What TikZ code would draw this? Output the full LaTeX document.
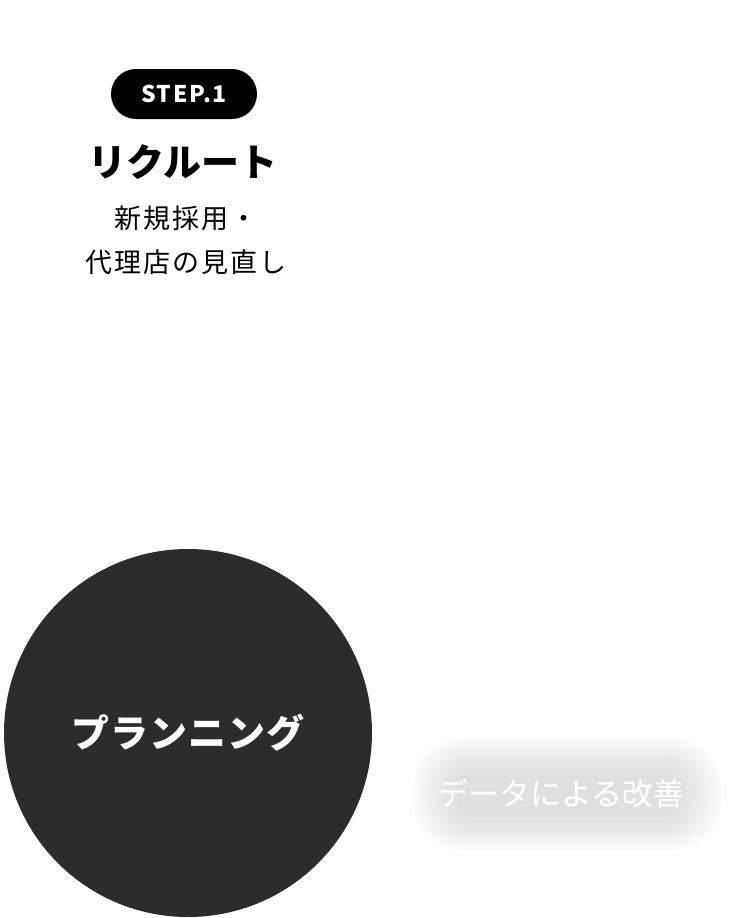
\documentclass[tikz,border=0pt]{standalone}
\usepackage{fontspec}
\setmainfont{Noto Sans CJK JP}
\newfontfamily\jpfont{Noto Sans CJK JP}
\usepackage{tikz}
\definecolor{circleGray}{HTML}{2B2C2C}
\definecolor{hazeGray}{HTML}{D2D2D2}
\newcommand*{\pillX}{567}
\newcommand*{\pillY}{794}
\begin{document}
\begin{tikzpicture}[x=1pt,y=-1pt,
    stepTag/.style={fill=black,rounded corners=25pt,minimum width=146pt,minimum height=50pt,text=white,font=\jpfont\bfseries\fontsize{23}{23}\selectfont\addfontfeature{LetterSpace=7}},
    titleText/.style={font=\jpfont\bfseries\fontsize{38}{38}\selectfont},
    bodyText/.style={font=\jpfont\fontsize{27}{27}\selectfont\addfontfeature{LetterSpace=8}}]
    \useasboundingbox (0,0) rectangle (744,918);
    % top step block
    \node [stepTag] (stepOne) at (184,94) {STEP.1};
    \node [titleText] (recruit) at (183,162) {リクルート};
    \node [bodyText] (lineOne) at (186,218) {新規採用・};
    \node [bodyText] (lineTwo) at (186,262) {代理店の見直し};
    % dark circle
    \fill [circleGray] (188,733) circle (184);
    \node [text=white,font=\jpfont\bfseries\fontsize{38}{38}\selectfont\addfontfeature{LetterSpace=3}] (planning) at (188,733) {プランニング};
    % blurred pill
    \foreach \i in {0,...,11} {
        \fill [hazeGray,opacity=0.09,rounded corners=50pt-3pt*\i]
            (\pillX-154+4*\i,\pillY-56+3*\i) rectangle (\pillX+154-4*\i,\pillY+56-3*\i);
    }
    \node [text=white,font=\jpfont\fontsize{31}{31}\selectfont] (dataText) at (561,794) {データによる改善};
\end{tikzpicture}
\end{document}
